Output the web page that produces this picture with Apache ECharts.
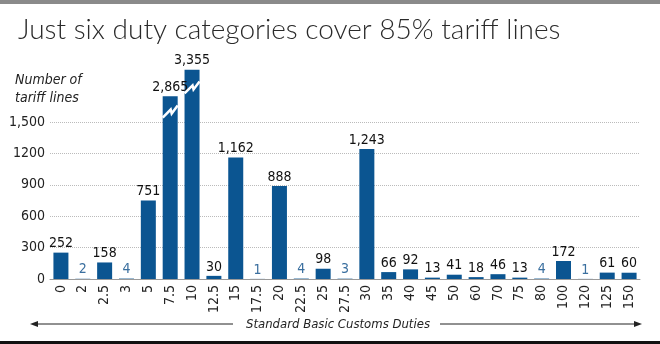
<!DOCTYPE html>
<html><head><meta charset="utf-8">
<style>html,body{margin:0;padding:0;background:#fff}#c{width:660px;height:344px}</style>
<script src="https://cdn.jsdelivr.net/npm/echarts@6/dist/echarts.min.js"></script>
</head><body><div id="c"></div>
<script>
const categories = ['0','2','2.5','3','5','7.5','10','12.5','15','17.5','20','22.5','25','27.5','30','35','40','45','50','60','70','75','80','100','120','125','150'];
const values = [252,2,158,4,751,2865,3355,30,1162,1,888,4,98,3,1243,66,92,13,41,18,46,13,4,172,1,61,60];
// bars that are shown broken (truncated), their shown height and break position
const brokenCats = ['7.5','10'];
const brokenShown = [1745, 2000];
const brokenMark = [1600, 1830];
const yTicks = [0,300,600,900,1200,1500];

const FONT = "'DejaVu Sans Condensed','Noto Sans',sans-serif";
const shown = values.map((v,i)=>{
  const k = brokenCats.indexOf(categories[i]);
  return k>=0 ? brokenShown[k] : v;
});
const fmt = v => v.toLocaleString('en-US');

const chart = echarts.init(document.getElementById('c'), null, {renderer:'canvas'});
chart.setOption({
  animation:false,
  backgroundColor:'#fff',
  grid:{left:50,right:20,top:122,bottom:65,containLabel:false},
  xAxis:{type:'category',data:categories,
    axisLine:{lineStyle:{color:'#9a9a9a',width:1}},
    axisTick:{show:false},
    axisLabel:{rotate:90,fontSize:14,color:'#222',fontFamily:FONT,margin:6,interval:0}},
  yAxis:{type:'value',min:0,max:1500,interval:300,
    axisLine:{show:false},axisTick:{show:false},
    splitLine:{lineStyle:{type:'dotted',color:'#bbb',width:1}},
    axisLabel:{fontSize:14,color:'#222',fontFamily:FONT,margin:5,
      formatter:v=> v===1500 ? '1,500' : String(v)}},
  series:[{
    type:'bar',clip:false,barWidth:15,
    data:shown.map((v,i)=>({value:v,label:{color: values[i]<=4 ? '#3a6f9f' : '#111'}})),
    itemStyle:{color:'#0b5591'},
    label:{show:true,position:'top',distance:2,fontSize:14,fontFamily:FONT,
      formatter:p=>fmt(values[p.dataIndex])}
  },{
    type:'custom',z:5,clip:false,
    data:brokenCats.map((c,i)=>[categories.indexOf(c),brokenMark[i]]),
    renderItem:(params,api)=>{
      const p = api.coord([api.value(0),api.value(1)]);
      const w = 7.5;
      return {type:'polyline',shape:{points:[[p[0]-w,p[1]+6],[p[0]+0.5,p[1]-2],[p[0]+1.5,p[1]+2],[p[0]+w,p[1]-6]]},
        style:{stroke:'#fff',lineWidth:2.5,fill:null}};
    }
  }],
  graphic:[
    {type:'rect',shape:{x:0,y:0,width:660,height:4},style:{fill:'#8a8a8a'}},
    {type:'rect',shape:{x:0,y:341,width:660,height:3},style:{fill:'#111'}},
    {type:'text',left:18,top:16,style:{text:'Just six duty categories cover 85% tariff lines',font:"300 28px Lato,'Open Sans',sans-serif",fill:'#2a2a2a'}},
    {type:'text',left:15,top:71,style:{text:'Number of\ntariff lines',font:"italic 14px "+FONT,fill:'#222',lineHeight:18}},
    {type:'line',shape:{x1:36,y1:324,x2:233,y2:324},style:{stroke:'#222',lineWidth:1}},
    {type:'polygon',shape:{points:[[30,324],[38,321],[38,327]]},style:{fill:'#222'}},
    {type:'line',shape:{x1:440,y1:324,x2:636,y2:324},style:{stroke:'#222',lineWidth:1}},
    {type:'polygon',shape:{points:[[642,324],[634,321],[634,327]]},style:{fill:'#222'}},
    {type:'text',x:338,y:325,style:{text:'Standard Basic Customs Duties',font:"italic 13px "+FONT,fill:'#222',align:'center',verticalAlign:'middle'}}
  ]
});
</script></body></html>
